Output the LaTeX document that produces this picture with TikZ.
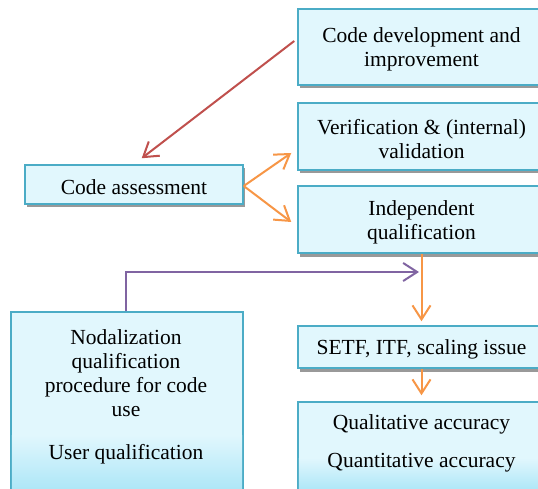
\documentclass[tikz,border=0pt]{standalone}
\usepackage{fontspec}
\setmainfont{Liberation Serif}
\usetikzlibrary{arrows.meta,shadows}
\definecolor{boxfill}{HTML}{E1F7FD}
\definecolor{boxline}{HTML}{4BACC6}
\definecolor{redarr}{HTML}{C0504D}
\definecolor{orgarr}{HTML}{F79646}
\definecolor{purarr}{HTML}{8064A2}
\definecolor{gradc}{HTML}{ACE6F7}
\begin{document}
\begin{tikzpicture}[x=1pt,y=-1pt,
  plainbox/.style={draw=boxline, line width=1.5pt, fill=boxfill, inner sep=0pt},
  box/.style={plainbox,
    drop shadow={shadow xshift=2pt, shadow yshift=-3.5pt, fill=black!40, opacity=1}},
  txt/.style={inner sep=0pt, align=center, font=\fontsize{21.5}{24}\selectfont},
  arr/.style={line width=2pt, -{Straight Barb[length=14pt,width=18pt,line width=2pt]}}
]
\useasboundingbox (0,0) rectangle (538,489);
\clip (0,0) rectangle (538,489);
\fill[white] (0,0) rectangle (538,489);

% boxes
\node[box, minimum width=247pt, minimum height=76pt] (dev) at (421.5,47) {};
\node[box, minimum width=247pt, minimum height=67pt] (ver) at (421.5,136.5) {};
\node[box, minimum width=247pt, minimum height=67pt] (ind) at (421.5,219.5) {};
\node[box, minimum width=218pt, minimum height=39pt] (ca) at (134,184.5) {};
\node[plainbox, minimum width=232pt, minimum height=190pt] (nod) at (127,407) {};
\node[box, minimum width=247pt, minimum height=42pt] (setf) at (421.5,347) {};
\node[plainbox, minimum width=247pt, minimum height=100pt] (qa) at (421.5,452) {};

\shade[top color=boxfill, bottom color=gradc] (11.8,435) rectangle (242.2,491);
\shade[top color=boxfill, bottom color=gradc] (298.8,458) rectangle (547,491);

% texts
\node[txt] (devt) at (421.5,49.5) {Code development and\\improvement};
\node[txt] (vert) at (421.5,139) {Verification \& (internal)\\validation};
\node[txt] (indt) at (421.5,222) {Independent\\qualification};
\node[txt] (cat) at (134,187) {Code assessment};
\node[txt] (nodt) at (126,373.5) {Nodalization\\qualification\\procedure for code\\use};
\node[txt] (usr) at (126,454.5) {User qualification};
\node[txt] (setft) at (421.5,349.5) {SETF, ITF, scaling issue};
\node[txt] (qual) at (421.5,424.5) {Qualitative accuracy};
\node[txt] (quan) at (421.5,462.5) {Quantitative accuracy};

% connectors
\draw[arr, redarr] ([xshift=-3pt,yshift=6pt]dev.west) -- ([xshift=7.7pt,yshift=6pt]ca.north);
\draw[arr, orgarr] ([yshift=-1.5pt]ca.east) -- ([xshift=-6pt,yshift=-16.5pt]ver.west);
\draw[arr, orgarr] ([yshift=-1.5pt]ca.east) -- ([xshift=-6pt,yshift=-2.5pt]ind.west);
\draw[arr, orgarr] (ind.south) -- ([yshift=4pt]setf.north);
\draw[arr, orgarr] (setf.south) -- ([yshift=6pt]qa.north);
\coordinate (pend) at (419,272);
\draw[arr, purarr] ([xshift=-1pt]nod.north) |- (pend);
\end{tikzpicture}
\end{document}
